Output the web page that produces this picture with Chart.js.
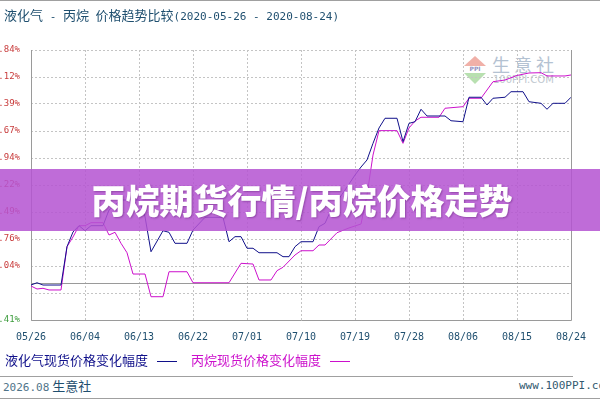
<!DOCTYPE html>
<html>
<head>
<meta charset="utf-8">
<script src="https://cdn.jsdelivr.net/npm/chart.js@4.4.1/dist/chart.umd.min.js"></script>
<style>
html,body{margin:0;padding:0;background:#fff;}
#wrap{position:relative;width:600px;height:400px;overflow:hidden;font-family:"Noto Sans CJK SC",sans-serif;}
#c{position:absolute;left:0;top:0;z-index:1;}
.hl{position:absolute;left:0;height:1px;background:#a0a0a0;}
#title{position:absolute;left:4px;top:6px;font-size:13px;line-height:18px;color:#1f4f6f;white-space:nowrap;z-index:3;}
.mono{font-family:"DejaVu Sans Mono",monospace;font-size:11px;}
#legend{position:absolute;left:5px;top:351px;font-size:13px;line-height:17px;white-space:nowrap;z-index:3;}
#legend .sw{display:inline-block;width:20px;height:0;border-top:1px solid;vertical-align:middle;margin:0 14px 0 9px;}
#footL{position:absolute;left:3px;top:378px;font-size:13px;line-height:16px;color:#1f4f6f;white-space:nowrap;}
#footL .mono{color:#4f7489;}
#footR{position:absolute;left:519px;top:378px;font-size:11px;line-height:16px;color:#335a70;white-space:nowrap;font-family:"DejaVu Sans Mono",monospace;}
#banner{position:absolute;left:0;top:169px;width:600px;height:62px;background:rgba(181,84,210,0.86);z-index:4;
  color:#fff;font-weight:900;font-size:34px;line-height:62px;text-align:center;text-indent:4px;text-shadow:1px 1px 2px rgba(60,0,80,0.35);white-space:nowrap;}
#wm{position:absolute;left:460px;top:48px;width:100px;height:40px;z-index:0;}
#wm .tri1{position:absolute;left:4px;top:8px;width:0;height:0;border-left:11px solid transparent;border-right:11px solid transparent;border-bottom:10px solid #f0b0a8;}
#wm .ppi{position:absolute;left:3px;top:18px;width:24px;height:6px;font:bold 6px "DejaVu Sans",sans-serif;color:#9090c0;text-align:center;line-height:6px;}
#wm .tri2{position:absolute;left:4px;top:25px;width:0;height:0;border-left:11px solid transparent;border-right:11px solid transparent;border-top:11px solid #b8e0b0;}
#wm .t1{position:absolute;left:32px;top:6px;font-size:18px;line-height:20px;color:#b4c2d2;letter-spacing:4px;}
#wm .t2{position:absolute;left:33px;top:27px;font-size:10px;line-height:10px;color:#c0c8d0;font-family:"DejaVu Sans",sans-serif;}
</style>
</head>
<body>
<div id="wrap">
  <div class="hl" style="top:0;width:600px;"></div>
  <div id="title"><span>液化气</span><span class="mono"> - </span><span>丙烷</span><span class="mono"> </span><span>价格趋势比较</span><span class="mono">(2020-05-26 - 2020-08-24)</span></div>
  <div id="wm"><div class="tri1"></div><div class="ppi">PPI</div><div class="tri2"></div><div class="t1">生意社</div><div class="t2">100PPI.COM</div></div>
  <canvas id="c" width="600" height="400"></canvas>
  <div id="banner">丙烷期货行情/丙烷价格走势</div>
  <div id="legend"></div>
  <div class="hl" style="top:376px;width:573px;"></div>
  <div id="footL"><span class="mono">2026.08</span> 生意社</div>
  <div id="footR">www.100PPI.com</div>
  <div class="hl" style="top:398px;width:600px;"></div>
</div>
<script>
// ---- data ----
const X_TICK_LABELS = ['05/26','06/04','06/13','06/22','07/01','07/10','07/19','07/28','08/06','08/15','08/24'];
const DAYS_PER_TICK = 9;
const Y_TICKS = [-1.41, 1.315, 4.04, 6.765, 9.49, 12.215, 14.94, 17.665, 20.39, 23.115, 25.84];
const Y_TICK_LABELS = ['-1.41%', '', '4.04%', '6.76%', '9.49%', '12.22%', '14.94%', '17.67%', '20.39%', '23.12%', '25.84%'];
const ZERO_LINE_VALUE = 2.35;
const SERIES_NAMES = ['液化气现货价格变化幅度', '丙烷现货价格变化幅度'];

const LPG_DAYS = [0,1,2,5,6,7,8,9,10,12,13,15,18,19,20,22,23,24,26,27,29,32,33,34,35,36,37,38,41,42,43,44,45,47,48,49,50,52,54,55,56,57,58,59,61,62,63,64,65,66,69,70,72,73,75,76,77,79,80,82,83,85,86,87,89,90];
const LPG_VALUES = [2.12,2.35,2.12,2.12,5.99,7.47,8.11,7.60,8.11,8.11,9.69,10.70,10.70,9.02,5.48,7.60,7.44,6.33,6.33,7.67,8.95,8.95,6.49,7.00,7.00,5.83,5.83,5.38,5.38,4.98,4.98,5.99,6.49,6.49,8.01,8.35,9.69,11.41,13.22,14.03,14.74,16.42,17.97,18.95,18.95,16.59,18.44,18.60,19.86,19.18,19.18,18.70,18.60,21.07,21.07,20.29,20.97,21.07,21.63,21.63,20.62,20.46,19.86,20.46,20.46,21.07];

const PROPANE_DAYS = [0,1,2,3,5,6,7,8,9,10,12,13,14,15,16,17,19,20,22,23,26,27,33,35,37,38,40,41,42,44,45,47,48,49,51,53,55,56,57,58,61,62,63,64,65,68,69,72,73,75,77,79,81,83,85,86,89,90];
const PROPANE_VALUES = [2.02,1.72,1.79,1.62,1.62,5.99,6.97,8.11,8.11,8.41,8.41,7.17,7.44,6.33,5.38,3.23,3.23,0.94,0.94,3.46,3.46,2.35,2.35,4.31,4.24,2.63,2.63,3.57,3.91,5.15,5.58,5.58,6.16,6.16,7.40,7.88,8.28,11.21,15.24,17.70,17.70,16.42,17.97,18.67,19.05,19.05,19.96,20.12,20.97,20.97,22.64,22.81,23.27,23.52,23.55,23.22,23.22,23.32];

// ---- styles ----
const COLORS = ['#10108a', '#cc10cc'];
const AXIS_TEXT = '#1f4f6f';
const GRID = '#c4c4c4';
const FRAME = '#9a9a9a';

function pts(days, vals){ return days.map((d,i)=>({x:d, y:vals[i]})); }

// legend (HTML)
const lg = document.getElementById('legend');
SERIES_NAMES.forEach((n,i)=>{
  const s = document.createElement('span'); s.textContent = n; s.style.color = COLORS[i];
  const w = document.createElement('span'); w.className = 'sw'; w.style.borderColor = COLORS[i];
  lg.appendChild(s); lg.appendChild(w);
});

const framePlugin = {
  id: 'frame',
  beforeDatasetsDraw(chart){
    const {ctx, chartArea:a, scales:{y}} = chart;
    ctx.save();
    ctx.setLineDash([]);
    ctx.lineWidth = 1;
    ctx.strokeStyle = FRAME;
    const zy = Math.round(y.getPixelForValue(ZERO_LINE_VALUE)) + 0.5;
    const l = Math.round(a.left) + 0.5, r = Math.round(a.right) + 0.5, b = Math.round(a.bottom) + 0.5;
    ctx.beginPath();
    ctx.moveTo(a.left, zy); ctx.lineTo(a.right, zy);
    ctx.moveTo(l, a.top); ctx.lineTo(l, b);
    ctx.lineTo(r, b);
    ctx.moveTo(r, a.top); ctx.lineTo(r, b);
    ctx.stroke();
    ctx.restore();
  }
};

new Chart(document.getElementById('c'), {
  type: 'line',
  data: {
    datasets: [
      {label: SERIES_NAMES[0], data: pts(LPG_DAYS, LPG_VALUES), borderColor: COLORS[0], borderWidth: 1, pointRadius: 0, tension: 0, fill: false},
      {label: SERIES_NAMES[1], data: pts(PROPANE_DAYS, PROPANE_VALUES), borderColor: COLORS[1], borderWidth: 1, pointRadius: 0, tension: 0, fill: false}
    ]
  },
  options: {
    responsive: false,
    animation: false,
    devicePixelRatio: 1,
    layout: {padding: {left: 0, right: 29, top: 50, bottom: 50}},
    plugins: {legend: {display: false}, tooltip: {enabled: false}},
    scales: {
      x: {
        type: 'linear', min: 0, max: (X_TICK_LABELS.length - 1) * DAYS_PER_TICK,
        afterBuildTicks: s => { s.ticks = X_TICK_LABELS.map((_, i) => ({value: i * DAYS_PER_TICK})); },
        afterFit: s => { s.height = 30; },
        ticks: {callback: (v, i) => X_TICK_LABELS[i], color: AXIS_TEXT, font: {family: 'DejaVu Sans Mono', size: 10}, padding: 11, maxRotation: 0, autoSkip: false},
        grid: {color: GRID, drawTicks: false, lineWidth: 1},
        border: {display: false, dash: [2, 2]}
      },
      y: {
        type: 'linear', min: Y_TICKS[0], max: Y_TICKS[Y_TICKS.length - 1],
        afterBuildTicks: s => { s.ticks = Y_TICKS.map(v => ({value: v})); },
        afterFit: s => { s.width = 31; },
        ticks: {callback: (v, i) => Y_TICK_LABELS[i], color: c => (c.tick && c.tick.value < 0) ? '#3c9c3c' : '#c83c3c', font: {family: 'DejaVu Sans Mono', size: 9}, padding: 11},
        grid: {color: GRID, drawTicks: false, lineWidth: 1},
        border: {display: false, dash: [2, 2]}
      }
    }
  },
  plugins: [framePlugin]
});
</script>
</body>
</html>
